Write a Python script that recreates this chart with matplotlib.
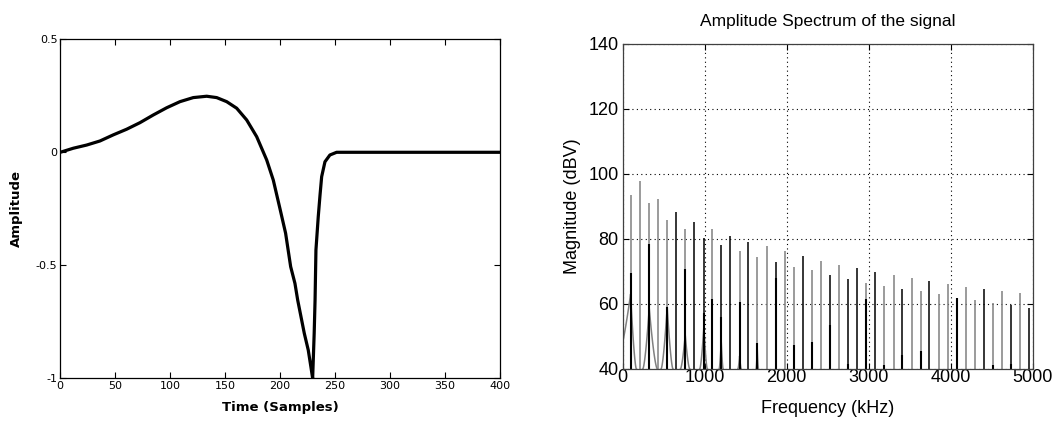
import numpy as np
import matplotlib
matplotlib.use('Agg')
import matplotlib.pyplot as plt

# ---- left panel: time-domain pulse ----
time_samples = [0, 11.9, 24, 36.1, 48.2, 60.4, 72.5, 84.6, 96.8, 108.9, 121,
                133.2, 142.3, 151.4, 160.5, 169.6, 178.7, 187.8, 193.8, 199.9,
                205, 209.6, 213.5, 216, 222, 225.6, 228, 229.6, 231, 231.8,
                232.6, 234.7, 236.3, 237.8, 240.8, 245.3, 251.4, 260, 400]
amplitude = [0, 0.018, 0.032, 0.05, 0.077, 0.102, 0.131, 0.165, 0.197, 0.224,
             0.242, 0.248, 0.242, 0.224, 0.195, 0.143, 0.069, -0.034, -0.123,
             -0.25, -0.358, -0.506, -0.58, -0.654, -0.801, -0.875, -0.949,
             -1.0, -0.801, -0.654, -0.432, -0.285, -0.19, -0.108, -0.042,
             -0.012, 0, 0, 0]

# ---- right panel: harmonic peaks of the spectrum ----
peak_khz = [98, 215, 325, 430, 544, 654, 764, 873, 991, 1093, 1203, 1313, 1427,
            1532, 1642, 1756, 1866, 1979, 2087, 2203, 2312, 2418, 2532, 2638,
            2748, 2861, 2967, 3081, 3190, 3305, 3410, 3524, 3634, 3740, 3854,
            3963, 4073, 4183, 4296, 4410, 4512, 4622, 4739, 4841, 4955]
peak_db = [93.5, 97.8, 91.0, 92.2, 85.8, 88.2, 82.9, 85.3, 80.2, 82.9, 78.2,
           80.9, 76.2, 79.0, 74.3, 77.7, 72.9, 76.2, 71.4, 74.7, 70.4, 73.2,
           68.8, 71.9, 67.6, 71.1, 66.4, 69.9, 65.5, 68.8, 64.6, 67.9, 63.8,
           67.0, 62.9, 66.1, 61.9, 65.3, 61.2, 64.6, 60.1, 63.8, 59.6, 63.2, 58.8]
peak_tone = ['g', 'g', 'g', 'g', 'g', 'k', 'g', 'k', 'k', 'g', 'k', 'k', 'g',
             'k', 'g', 'g', 'k', 'g', 'g', 'k', 'g', 'g', 'k', 'g', 'k', 'k',
             'g', 'k', 'g', 'g', 'k', 'g', 'g', 'k', 'g', 'g', 'k', 'g', 'g',
             'k', 'g', 'g', 'k', 'g', 'k']

# lower black spikes sitting on some of the peaks
sub_khz = [98, 325, 544, 764, 991, 1093, 1203, 1427, 1642, 1866, 2087, 2312,
           2532, 2748, 2967, 3190, 3410, 3634, 4073, 4512, 4739]
sub_db = [69.6, 78.4, 59.1, 70.7, 57.2, 61.4, 56.0, 60.5, 47.8, 68.0, 47.3,
          48.1, 53.5, 41.5, 61.5, 41.0, 44.2, 45.5, 61.9, 41.0, 41.5]

# grey leakage lobes at the base of the first peaks
lobe_khz = [98, 325, 544, 764, 991, 1203, 1427, 1642]
lobe_db = [63.0, 58.7, 59.0, 50.4, 52.9, 48.3, 43.9, 46.0]
lobe_left = [191, 77, 73, 57, 49, 25, 20, 14]
lobe_right = [69, 97, 69, 53, 41, 22, 18, 14]

GREY = '#808080'
floor_db = 40

fig = plt.figure(figsize=(10.57, 4.21), dpi=100)

# left axes
ax1 = fig.add_axes([0.057, 0.1014, 0.416, 0.8053])
ax1.plot(time_samples, amplitude, color='black', lw=2.3, solid_joinstyle='round')
ax1.set_xlim(0, 400)
ax1.set_ylim(-1, 0.5)
ax1.set_xticks(np.arange(0, 401, 50))
ax1.set_yticks([-1, -0.5, 0, 0.5])
ax1.set_yticklabels(['-1', '-0.5', '0', '0.5'])
ax1.tick_params(direction='in', top=True, right=True, length=4, width=0.8,
                labelsize=8, pad=2)
ax1.set_xlabel('Time (Samples)', fontsize=9.5, fontweight='bold', labelpad=7)
ax1.set_ylabel('Amplitude', fontsize=9.5, fontweight='bold', labelpad=9)
for s in ax1.spines.values():
    s.set_linewidth(0.9)

# right axes
ax2 = fig.add_axes([0.589, 0.1242, 0.388, 0.7713])
f_grid = np.linspace(0, 1, 60)
for fc, top, wl, wr in zip(lobe_khz, lobe_db, lobe_left, lobe_right):
    xl = fc - wl * f_grid[::-1]
    yl = floor_db + (top - floor_db) * f_grid ** 1.5
    xr = fc + wr * f_grid
    yr = floor_db + (top - floor_db) * f_grid[::-1] ** 1.5
    ax2.plot(np.concatenate([xl, xr]), np.concatenate([yl, yr]),
             color=GREY, lw=1.1)

tone_col = {'g': GREY, 'k': 'black'}
ax2.vlines(peak_khz, floor_db, peak_db, colors=[tone_col[c] for c in peak_tone],
           lw=1.1)
ax2.vlines(sub_khz, floor_db, sub_db, colors='black', lw=1.5)

ax2.set_xlim(0, 5000)
ax2.set_ylim(40, 140)
ax2.set_xticks(np.arange(0, 5001, 1000))
ax2.set_yticks(np.arange(40, 141, 20))
ax2.grid(True, color='black', linestyle=(0, (1, 3)), lw=0.8)
ax2.tick_params(direction='in', top=True, right=True, length=4, width=0.8,
                labelsize=13)
ax2.tick_params(axis='x', pad=0)
ax2.tick_params(axis='y', pad=3)
for lab in ax2.get_xticklabels() + ax2.get_yticklabels():
    lab.set_family('Liberation Sans')
ax2.set_xlabel('Frequency (kHz)', fontsize=13, family='Liberation Sans',
               labelpad=10)
ax2.set_ylabel('Magnitude (dBV)', fontsize=13, family='Liberation Sans',
               labelpad=5)
ax2.set_title('Amplitude Spectrum of the signal', fontsize=12.5,
              family='Liberation Sans', pad=13)
for s in ax2.spines.values():
    s.set_linewidth(0.9)
    s.set_color('#404040')

fig.savefig('out.png', dpi=100)
